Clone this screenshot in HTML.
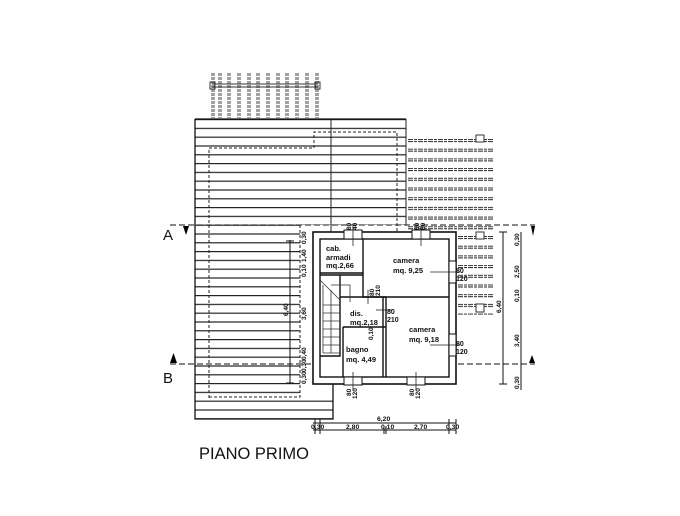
<!DOCTYPE html>
<html><head><meta charset="utf-8"><style>
html,body{margin:0;padding:0;background:#fff;}
svg{display:block;}
text{font-family:"Liberation Sans",sans-serif;fill:#111;}
</style></head><body>
<svg width="680" height="516" viewBox="0 0 680 516" xmlns="http://www.w3.org/2000/svg">
<defs>
<pattern id="roof" x="0" y="119" width="10" height="8.8" patternUnits="userSpaceOnUse">
<line x1="0" y1="0.6" x2="10" y2="0.6" stroke="#222" stroke-width="1.2"/>
</pattern>
<pattern id="perg" x="0" y="139" width="10" height="9.7" patternUnits="userSpaceOnUse">
<line x1="0" y1="0.5" x2="10" y2="0.5" stroke="#333" stroke-width="1" stroke-dasharray="3,1"/>
<line x1="0" y1="2.5" x2="10" y2="2.5" stroke="#333" stroke-width="1" stroke-dasharray="3,1"/>
</pattern>
</defs>
<rect width="680" height="516" fill="#fff"/>

<!-- top pergola -->
<g stroke="#444" stroke-width="1" stroke-dasharray="3,1">
<line x1="212" y1="73" x2="212" y2="118"/><line x1="214" y1="73" x2="214" y2="118"/>
<line x1="219" y1="73" x2="219" y2="118"/><line x1="221" y1="73" x2="221" y2="118"/>
<line x1="228" y1="73" x2="228" y2="118"/><line x1="230" y1="73" x2="230" y2="118"/>
<line x1="238" y1="73" x2="238" y2="118"/><line x1="240" y1="73" x2="240" y2="118"/>
<line x1="248" y1="73" x2="248" y2="118"/><line x1="250" y1="73" x2="250" y2="118"/>
<line x1="257" y1="73" x2="257" y2="118"/><line x1="259" y1="73" x2="259" y2="118"/>
<line x1="267" y1="73" x2="267" y2="118"/><line x1="269" y1="73" x2="269" y2="118"/>
<line x1="277" y1="73" x2="277" y2="118"/><line x1="279" y1="73" x2="279" y2="118"/>
<line x1="286" y1="73" x2="286" y2="118"/><line x1="288" y1="73" x2="288" y2="118"/>
<line x1="296" y1="73" x2="296" y2="118"/><line x1="298" y1="73" x2="298" y2="118"/>
<line x1="306" y1="73" x2="306" y2="118"/><line x1="308" y1="73" x2="308" y2="118"/>
<line x1="316" y1="73" x2="316" y2="118"/><line x1="318" y1="73" x2="318" y2="118"/>
</g>
<line x1="212" y1="84" x2="318" y2="84" stroke="#333"/>
<line x1="212" y1="87" x2="318" y2="87" stroke="#333"/>
<rect x="210" y="82" width="5" height="7" fill="none" stroke="#333"/>
<rect x="315" y="82" width="5" height="7" fill="none" stroke="#333"/>

<!-- roof -->
<rect x="195" y="119" width="211" height="106" fill="url(#roof)"/>
<rect x="195" y="225" width="105" height="172" fill="url(#roof)"/>
<rect x="195" y="397" width="138" height="22" fill="url(#roof)"/>
<polyline points="406,119 406,225" stroke="#222" fill="none"/>
<polyline points="195,119 406,119" stroke="#111" fill="none" stroke-width="1.3"/>
<polyline points="195,119 195,419 333,419 333,384" stroke="#111" fill="none" stroke-width="1.3"/>
<line x1="331" y1="119" x2="331" y2="232" stroke="#222"/>
<polyline points="209,398 209,148 314,148 314,132 397,132 397,232" stroke="#222" fill="none" stroke-dasharray="3,2"/>
<polyline points="300,225 300,397 209,397" stroke="#222" fill="none" stroke-dasharray="3,2"/>

<!-- right pergola -->
<rect x="407" y="139" width="86" height="92" fill="url(#perg)"/>
<rect x="458" y="231" width="35" height="84" fill="url(#perg)"/>
<rect x="476" y="135" width="8" height="7" fill="#fff" stroke="#333"/>
<rect x="476" y="232" width="8" height="7" fill="#fff" stroke="#333"/>
<rect x="476" y="304" width="8" height="8" fill="#fff" stroke="#333"/>

<!-- section lines -->
<line x1="170" y1="225" x2="535" y2="225" stroke="#111" stroke-dasharray="6,3"/>
<line x1="170" y1="364" x2="535" y2="364" stroke="#111" stroke-dasharray="6,3"/>
<polygon points="183,226 189,226 186,235" fill="#000"/>
<polygon points="531,226 535,226 533,236" fill="#000"/>
<polygon points="170,363 177,363 173.5,353" fill="#000"/>
<polygon points="529,363 535,363 532,355" fill="#000"/>
<text x="163" y="240" font-size="15">A</text>
<text x="163" y="383" font-size="15">B</text>

<!-- house -->
<rect x="313" y="232" width="143" height="152" fill="#fff" stroke="#111" stroke-width="1.6"/>
<rect x="320" y="239" width="129" height="138" fill="none" stroke="#111" stroke-width="1.4"/>
<g stroke="#111" stroke-width="1.4" fill="none">
<polyline points="363,239 363,273 320,273"/>
<polyline points="320,275 363,275"/>
<polyline points="363,273 363,297 449,297"/>
<polyline points="386,297 386,377"/>
<polyline points="383,297 383,377"/>
<polyline points="340,297 386,297"/>
<polyline points="340,275 340,356 320,356"/>
<polyline points="343,327 386,327"/>
<polyline points="343,327 343,377"/>
</g>
<g stroke="#333" stroke-width="0.8" fill="none">
<line x1="320" y1="280" x2="340" y2="300"/>
<line x1="323" y1="305" x2="340" y2="305"/><line x1="323" y1="313" x2="340" y2="313"/>
<line x1="323" y1="321" x2="340" y2="321"/><line x1="323" y1="329" x2="340" y2="329"/>
<line x1="323" y1="337" x2="340" y2="337"/><line x1="323" y1="345" x2="340" y2="345"/>
<line x1="323" y1="353" x2="340" y2="353"/>
<line x1="323" y1="285" x2="323" y2="353"/><line x1="331" y1="290" x2="331" y2="353"/>
<polyline points="331,285 350,285 350,302"/>
</g>
<g fill="#fff" stroke="#111">
<rect x="344" y="230" width="18" height="9"/>
<rect x="412" y="230" width="18" height="9"/>
<rect x="449" y="261" width="7" height="22"/>
<rect x="449" y="334" width="7" height="22"/>
<rect x="344" y="377" width="18" height="8"/>
<rect x="407" y="377" width="18" height="8"/>
</g>
<g stroke="#222" stroke-width="0.8">
<line x1="353" y1="226" x2="353" y2="246"/><line x1="421" y1="226" x2="421" y2="246"/>
<line x1="430" y1="272" x2="460" y2="272"/><line x1="430" y1="345" x2="460" y2="345"/>
<line x1="353" y1="372" x2="353" y2="390"/><line x1="416" y1="372" x2="416" y2="390"/>
<line x1="368" y1="290" x2="368" y2="304"/><line x1="376" y1="310" x2="392" y2="310"/>
</g>
<g font-size="7.5" font-weight="bold">
<text x="326" y="251">cab.</text>
<text x="326" y="260">armadi</text>
<text x="326" y="268">mq.2,66</text>
<text x="393" y="263">camera</text>
<text x="393" y="273">mq.  9,25</text>
<text x="350" y="316">dis.</text>
<text x="350" y="325">mq.2,18</text>
<text x="409" y="332">camera</text>
<text x="409" y="342">mq.  9,18</text>
<text x="346" y="352">bagno</text>
<text x="346" y="362">mq.  4,49</text>
<text x="456" y="273" font-size="7">80</text><text x="456" y="281" font-size="7">120</text>
<text x="456" y="346" font-size="7">80</text><text x="456" y="354" font-size="7">120</text>
<text x="387" y="314" font-size="7">80</text><text x="387" y="322" font-size="7">210</text>
</g>
<g font-size="6.5" font-weight="bold">
<text transform="translate(351,230) rotate(-90)">80</text>
<text transform="translate(357,230) rotate(-90)">40</text>
<text transform="translate(419,230) rotate(-90)">60</text>
<text transform="translate(425,230) rotate(-90)">60</text>
<text transform="translate(374,296) rotate(-90)">80</text>
<text transform="translate(380,296) rotate(-90)">210</text>
<text transform="translate(351,396) rotate(-90)">80</text>
<text transform="translate(357,399) rotate(-90)">120</text>
<text transform="translate(414,396) rotate(-90)">80</text>
<text transform="translate(420,399) rotate(-90)">120</text>
<text transform="translate(373,340) rotate(-90)">0,10</text>
</g>

<line x1="290" y1="240" x2="290" y2="384" stroke="#111"/>
<line x1="286" y1="241" x2="294" y2="241" stroke="#111"/>
<line x1="286" y1="383" x2="294" y2="383" stroke="#111"/>
<g font-size="6.5" font-weight="bold">
<text transform="translate(288,316) rotate(-90)">6,40</text>
<text transform="translate(306,244) rotate(-90)">0,30</text>
<text transform="translate(306,262) rotate(-90)">1,40</text>
<text transform="translate(306,277) rotate(-90)">0,10</text>
<text transform="translate(306,320) rotate(-90)">3,60</text>
<text transform="translate(306,360) rotate(-90)">0,40</text>
<text transform="translate(306,372) rotate(-90)">0,30</text>
<text transform="translate(306,384) rotate(-90)">0,30</text>
</g>
<line x1="503" y1="232" x2="503" y2="384" stroke="#111"/>
<line x1="499" y1="232" x2="507" y2="232" stroke="#111"/>
<line x1="499" y1="384" x2="507" y2="384" stroke="#111"/>
<line x1="521" y1="232" x2="521" y2="390" stroke="#111"/>
<g font-size="6.5" font-weight="bold">
<text transform="translate(501,313) rotate(-90)">6,40</text>
<text transform="translate(519,246) rotate(-90)">0,30</text>
<text transform="translate(519,278) rotate(-90)">2,50</text>
<text transform="translate(519,302) rotate(-90)">0,10</text>
<text transform="translate(519,347) rotate(-90)">3,40</text>
<text transform="translate(519,389) rotate(-90)">0,30</text>
</g>
<line x1="313" y1="423" x2="456" y2="423" stroke="#111"/>
<line x1="313" y1="430" x2="456" y2="430" stroke="#111"/>
<g stroke="#111"><line x1="315" y1="419" x2="315" y2="434"/><line x1="320" y1="419" x2="320" y2="434"/>
<line x1="384" y1="426" x2="384" y2="434"/><line x1="386" y1="426" x2="386" y2="434"/>
<line x1="449" y1="419" x2="449" y2="434"/><line x1="456" y1="419" x2="456" y2="434"/></g>
<g font-size="6.8" font-weight="bold">
<text x="377" y="421">6,20</text>
<text x="311" y="429">0,30</text>
<text x="346" y="429">2,80</text>
<text x="381" y="429">0,10</text>
<text x="414" y="429">2,70</text>
<text x="446" y="429">0,30</text>
</g>

<text x="199" y="459" font-size="16.5">PIANO PRIMO</text>
</svg>
</body></html>
